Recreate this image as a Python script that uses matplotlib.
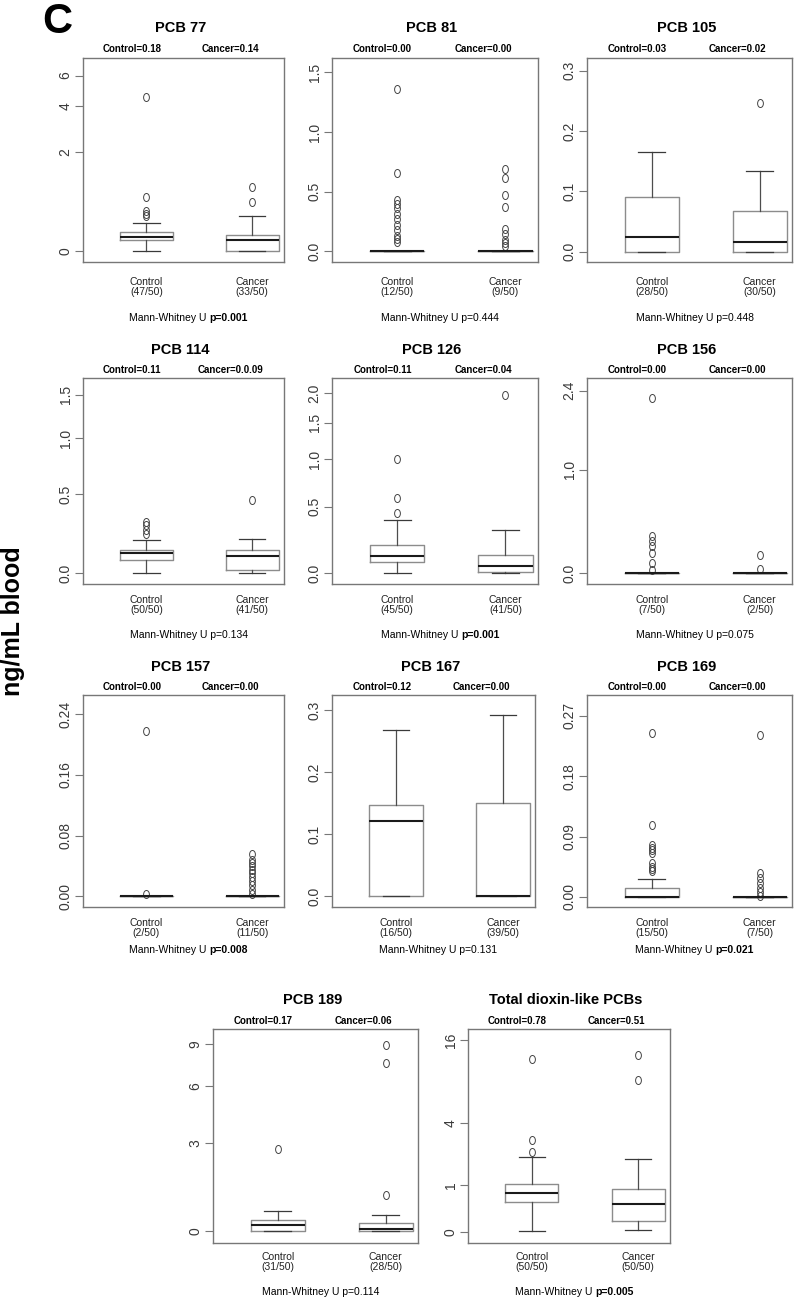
import numpy as np
import matplotlib
matplotlib.use("Agg")
import matplotlib.pyplot as plt
import matplotlib.transforms as mtransforms
from matplotlib.path import Path
from matplotlib.markers import MarkerStyle
from matplotlib.ticker import NullLocator

plt.rcParams['font.family'] = ['Liberation Sans', 'DejaVu Sans']

# ---- data ----
titles = ['PCB 77', 'PCB 81', 'PCB 105', 'PCB 114', 'PCB 126', 'PCB 156',
          'PCB 157', 'PCB 167', 'PCB 169', 'PCB 189', 'Total dioxin-like PCBs']
ctrl_median_txt = ['Control=0.18', 'Control=0.00', 'Control=0.03', 'Control=0.11',
                   'Control=0.11', 'Control=0.00', 'Control=0.00', 'Control=0.12',
                   'Control=0.00', 'Control=0.17', 'Control=0.78']
canc_median_txt = ['Cancer=0.14', 'Cancer=0.00', 'Cancer=0.02', 'Cancer=0.0.09',
                   'Cancer=0.04', 'Cancer=0.00', 'Cancer=0.00', 'Cancer=0.00',
                   'Cancer=0.00', 'Cancer=0.06', 'Cancer=0.51']
ctrl_detect = ['47/50', '12/50', '28/50', '50/50', '45/50', '7/50',
               '2/50', '16/50', '15/50', '31/50', '50/50']
canc_detect = ['33/50', '9/50', '30/50', '41/50', '41/50', '2/50',
               '11/50', '39/50', '7/50', '28/50', '50/50']
p_values = ['p=0.001', 'p=0.444', 'p=0.448', 'p=0.134', 'p=0.001', 'p=0.075',
            'p=0.008', 'p=0.131', 'p=0.021', 'p=0.114', 'p=0.005']
p_bold = [True, False, False, False, True, False, True, False, True, False, True]

# box stats: whisker low, q1, median, q3, whisker high
ctrl_box = [
    [0.0, 0.13, 0.18, 0.24, 0.37],
    [0.0, 0.0, 0.0, 0.0, 0.0],
    [0.0, 0.0, 0.025, 0.09, 0.166],
    [0.0, 0.071, 0.11, 0.127, 0.183],
    [0.0, 0.068, 0.11, 0.183, 0.379],
    [0.0, 0.0, 0.0, 0.0, 0.0],
    [0.0, 0.0, 0.0, 0.0, 0.0],
    [0.0, 0.0, 0.121, 0.148, 0.268],
    [0.0, 0.0, 0.0, 0.0134, 0.027],
    [0.0, 0.0, 0.17, 0.31, 0.546],
    [0.005, 0.54, 0.78, 1.036, 2.03],
]
canc_box = [
    [0.0, 0.0, 0.14, 0.20, 0.487],
    [0.0, 0.0, 0.0, 0.0, 0.0],
    [0.0, 0.0, 0.0166, 0.0674, 0.133],
    [0.0, 0.017, 0.093, 0.127, 0.191],
    [0.0, 0.006, 0.042, 0.117, 0.302],
    [0.0, 0.0, 0.0, 0.0, 0.0],
    [0.0, 0.0, 0.0, 0.0, 0.0],
    [0.0, 0.0, 0.0, 0.15, 0.293],
    [0.0, 0.0, 0.0, 0.0, 0.0],
    [0.0, 0.0, 0.06, 0.22, 0.45],
    [0.03, 0.17, 0.51, 0.89, 1.94],
]
ctrl_out = [
    [0.48, 0.52, 0.57, 0.82, 4.55],
    [0.08, 0.10, 0.13, 0.18, 0.22, 0.27, 0.31, 0.36, 0.40, 0.43, 0.66, 1.36],
    [],
    [0.22, 0.25, 0.28, 0.30],
    [0.44, 0.585, 1.0],
    [0.02, 0.07, 0.145, 0.20, 0.24, 0.28, 2.23],
    [0.0035, 0.217],
    [],
    [0.038, 0.041, 0.045, 0.050, 0.066, 0.070, 0.073, 0.077, 0.107, 0.244],
    [2.745],
    [2.26, 2.87, 11.9],
]
canc_out = [
    [0.72, 1.03],
    [0.042, 0.07, 0.098, 0.148, 0.19, 0.37, 0.47, 0.61, 0.69],
    [0.247],
    [0.458],
    [1.97],
    [0.03, 0.132],
    [0.0035, 0.0088, 0.0145, 0.02, 0.0255, 0.031, 0.035, 0.04, 0.044, 0.048, 0.056],
    [],
    [0.001, 0.0074, 0.0134, 0.0208, 0.028, 0.0357, 0.241],
    [1.04, 7.55, 8.94],
    [8.35, 12.57],
]
yticks = [[0, 2, 4, 6], [0, 0.5, 1.0, 1.5], [0, 0.1, 0.2, 0.3], [0, 0.5, 1.0, 1.5],
          [0, 0.5, 1.0, 1.5, 2.0], [0, 1.0, 2.4], [0, 0.08, 0.16, 0.24],
          [0, 0.1, 0.2, 0.3], [0, 0.09, 0.18, 0.27], [0, 3, 6, 9], [0, 1, 4, 16]]
ytick_labels = [['0', '2', '4', '6'], ['0.0', '0.5', '1.0', '1.5'], ['0.0', '0.1', '0.2', '0.3'],
                ['0.0', '0.5', '1.0', '1.5'], ['0.0', '0.5', '1.0', '1.5', '2.0'],
                ['0.0', '1.0', '2.4'], ['0.00', '0.08', '0.16', '0.24'],
                ['0.0', '0.1', '0.2', '0.3'], ['0.00', '0.09', '0.18', '0.27'],
                ['0', '3', '6', '9'], ['0', '1', '4', '16']]
ylims = [(-0.11, 7.5), (-0.09, 1.62), (-0.017, 0.321), (-0.055, 1.724), (-0.065, 2.287),
         (-0.0695, 2.70), (-0.014, 0.265), (-0.017, 0.325), (-0.015, 0.301),
         (-0.289, 10.29), (-0.154, 18.98)]
yscales = ['log1p', 'lin', 'lin', 'log1p', 'log1p', 'log1p', 'lin', 'lin', 'lin',
           'log1p4', 'log1p']

# ---- layout (pixels: left, top, right, bottom) ----
W, H = 794, 1298
panel_px = [(83, 58, 284, 262), (332, 58, 538, 262), (587, 58, 792, 262),
            (83, 378, 284, 584), (332, 378, 538, 584), (587, 378, 792, 584),
            (83, 695, 284, 907), (332, 695, 535, 907), (587, 695, 792, 907),
            (213, 1029, 418, 1243), (468, 1029, 670, 1243)]
row_of = [0, 0, 0, 1, 1, 1, 2, 2, 2, 3, 3]
title_y = [28, 350, 667, 1000]
toplab_y = [49, 370, 687, 1021]
cat_y = [287, 605, 928, 1262]
mw_y = [318, 635, 950, 1292]

fig = plt.figure(figsize=(W / 100, H / 100), dpi=100)
renderer = fig.canvas.get_renderer()


def fy(py):
    return 1 - py / H


oval = MarkerStyle(Path.unit_circle().transformed(mtransforms.Affine2D().scale(0.72, 1.0)))

for i in range(len(titles)):
    l, t, r, b = panel_px[i]
    ax = fig.add_axes([l / W, fy(b), (r - l) / W, (b - t) / H])
    row = row_of[i]

    if yscales[i] == 'log1p':
        ax.set_yscale('function', functions=(np.log1p, np.expm1))
    elif yscales[i] == 'log1p4':
        ax.set_yscale('function', functions=(lambda v: np.log1p(v / 4.2),
                                             lambda v: 4.2 * np.expm1(v)))

    stats = []
    for box, out in ((ctrl_box[i], ctrl_out[i]), (canc_box[i], canc_out[i])):
        stats.append(dict(whislo=box[0], q1=box[1], med=box[2], q3=box[3],
                          whishi=box[4], fliers=np.array(out)))
    ax.bxp(stats, positions=[1, 2], widths=0.5, capwidths=0.25,
           boxprops=dict(color='#8c8c8c', lw=1.0),
           medianprops=dict(color='#1a1a1a', lw=1.5),
           whiskerprops=dict(color='#4d4d4d', lw=0.9),
           capprops=dict(color='#3a3a3a', lw=0.9),
           flierprops=dict(marker=oval, markersize=5.8, markerfacecolor='none',
                           markeredgecolor='#444444', markeredgewidth=0.7, linestyle='none'))

    ax.set_xlim(0.4, 2.3)
    ax.set_ylim(*ylims[i])
    ax.set_xticks([])
    ax.set_yticks(yticks[i], ytick_labels[i])
    ax.yaxis.set_minor_locator(NullLocator())
    ax.tick_params(axis='y', length=6, width=0.8, color='#777777', labelsize=10,
                   labelcolor='#3a3a3a', pad=1.5, labelrotation=90)
    for lab in ax.get_yticklabels():
        lab.set_va('center')
    for sp in ax.spines.values():
        sp.set_color('#777777')
        sp.set_linewidth(1.0)

    xc = (l + r) / 2
    fig.text(xc / W - 0.004, fy(title_y[row]), titles[i], ha='center', va='center',
             fontsize=10.5, fontweight='bold')
    fig.text((l + 0.245 * (r - l)) / W, fy(toplab_y[row]), ctrl_median_txt[i],
             ha='center', va='center', fontsize=7, fontweight='bold')
    fig.text((l + 0.735 * (r - l)) / W, fy(toplab_y[row]), canc_median_txt[i],
             ha='center', va='center', fontsize=7, fontweight='bold')

    trans = mtransforms.blended_transform_factory(ax.transData, fig.transFigure)
    ax.text(1, fy(cat_y[row]), 'Control\n(%s)' % ctrl_detect[i], transform=trans,
            ha='center', va='center', fontsize=7.5, color='#222222', linespacing=1.1)
    ax.text(2, fy(cat_y[row]), 'Cancer\n(%s)' % canc_detect[i], transform=trans,
            ha='center', va='center', fontsize=7.5, color='#222222', linespacing=1.1)

    # Mann-Whitney line, p value bold when significant
    mx = xc + 5
    if p_bold[i]:
        t1 = fig.text(0, fy(mw_y[row]), 'Mann-Whitney U', ha='left', va='center', fontsize=7.5)
        t2 = fig.text(0, fy(mw_y[row]), p_values[i], ha='left', va='center', fontsize=7.5,
                      fontweight='bold')
        w1 = t1.get_window_extent(renderer).width
        w2 = t2.get_window_extent(renderer).width
        gap = 0.278 * 7.5 * 100 / 72
        x0 = mx - (w1 + gap + w2) / 2
        t1.set_x(x0 / W)
        t2.set_x((x0 + w1 + gap) / W)
    else:
        fig.text(mx / W, fy(mw_y[row]), 'Mann-Whitney U ' + p_values[i], ha='center',
                 va='center', fontsize=7.5)

fig.text(57 / W, fy(22), 'C', ha='center', va='center', fontsize=30, fontweight='bold')
fig.text(13 / W, fy(621), 'ng/mL blood', ha='center', va='center', rotation=90,
         fontsize=18, fontweight='bold')

fig.savefig('out.png', dpi=100)
